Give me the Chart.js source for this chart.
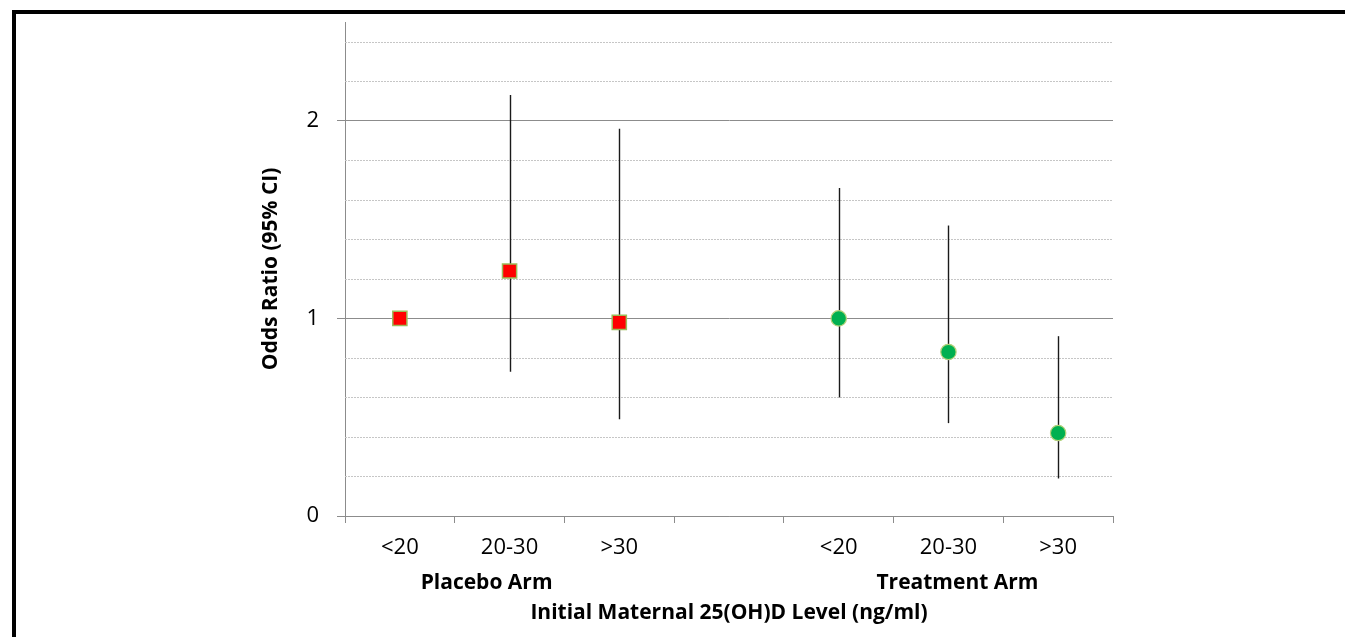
<!DOCTYPE html>
<html>
<head>
<meta charset="utf-8">
<script src="https://cdn.jsdelivr.net/npm/chart.js@4"></script>
<style>
  html, body { margin: 0; padding: 0; background: #fff; overflow: hidden; }
  #wrap { position: relative; width: 1345px; height: 637px; }
  #frame { position: absolute; left: 12px; top: 10px; width: 1400px; height: 700px;
           border-top: 4px solid #000; border-left: 4px solid #000; pointer-events: none; }
  canvas { position: absolute; left: 0; top: 0; }
</style>
</head>
<body>
<div id="wrap">
  <canvas id="mycanvas" width="1345" height="637"></canvas>
  <div id="frame"></div>
</div>
<script>
// categories on the x axis (4th slot is the gap between the two arms)
var categories = ['<20', '20-30', '>30', '', '<20', '20-30', '>30'];

// odds ratios and 95% CI, placebo arm
var placeboOR   = [1.00, 1.24, 0.98, null, null, null, null];
var placeboLow  = [null, 0.73, 0.49, null, null, null, null];
var placeboHigh = [null, 2.13, 1.96, null, null, null, null];

// odds ratios and 95% CI, treatment arm
var treatOR   = [null, null, null, null, 1.00, 0.83, 0.42];
var treatLow  = [null, null, null, null, 0.60, 0.47, 0.19];
var treatHigh = [null, null, null, null, 1.66, 1.47, 0.91];

var yTicks = [0, 1, 2];
var groupLabels = ['Placebo Arm', 'Treatment Arm'];

var fontName = '"Open Sans", Lato, sans-serif';
var gridGrey = '#8c8c8c';

// dotted minor grid lines + CI whiskers, drawn under the markers
var whiskers = {
  id: 'whiskers',
  beforeDatasetsDraw: function(chart) {
    var ctx = chart.ctx, xs = chart.scales.x, ys = chart.scales.y, area = chart.chartArea;
    ctx.save();
    // minor lines every 0.2
    ctx.strokeStyle = '#c6c6c6';
    ctx.lineWidth = 1;
    ctx.setLineDash([2, 1]);
    for (var k = 1; k <= 12; k++) {
      if (k % 5 === 0) continue;
      var py = Math.round(ys.getPixelForValue(k * 0.2)) + 0.5;
      ctx.beginPath();
      ctx.moveTo(area.left, py);
      ctx.lineTo(area.right, py);
      ctx.stroke();
    }
    ctx.setLineDash([]);
    // error bars
    ctx.strokeStyle = '#1a1a1a';
    ctx.lineWidth = 1.4;
    var sets = [[placeboLow, placeboHigh], [treatLow, treatHigh]];
    sets.forEach(function(s) {
      for (var i = 0; i < categories.length; i++) {
        if (s[0][i] == null) continue;
        var px = Math.round(xs.getPixelForValue(i)) + 0.5;
        ctx.beginPath();
        ctx.moveTo(px, ys.getPixelForValue(s[0][i]));
        ctx.lineTo(px, ys.getPixelForValue(s[1][i]));
        ctx.stroke();
      }
    });
    ctx.restore();
  },
  afterDraw: function(chart) {
    // arm labels under the category ticks
    var ctx = chart.ctx, xs = chart.scales.x;
    ctx.save();
    ctx.font = 'bold 21px ' + fontName;
    ctx.fillStyle = '#000';
    ctx.textAlign = 'center';
    ctx.textBaseline = 'middle';
    ctx.fillText(groupLabels[0], xs.getPixelForValue(1) - 23, 583);
    ctx.fillText(groupLabels[1], xs.getPixelForValue(5) + 9, 583);
    ctx.restore();
  }
};

var x = document.getElementById('mycanvas');

var orChart = new Chart(x, {
  type: 'line',
  data: {
    labels: categories,
    datasets: [
      {
        label: 'Placebo Arm',
        data: placeboOR,
        showLine: false,
        pointStyle: 'rect',
        pointRadius: 10,
        pointBackgroundColor: '#ff0000',
        pointBorderColor: '#9bbb59',
        pointBorderWidth: 1.5
      },
      {
        label: 'Treatment Arm',
        data: treatOR,
        showLine: false,
        pointStyle: 'circle',
        pointRadius: 7.7,
        pointBackgroundColor: '#00b050',
        pointBorderColor: '#b5d27a',
        pointBorderWidth: 1.2
      }
    ]
  },
  options: {
    responsive: false,
    animation: false,
    layout: { padding: { left: 245, right: 232, top: 22, bottom: 0 } },
    plugins: { legend: { display: false }, tooltip: { enabled: false } },
    scales: {
      x: {
        offset: true,
        afterFit: function(scale) { scale.height = 121; },
        grid: { offset: true, drawOnChartArea: false, color: gridGrey, tickLength: 7 },
        border: { color: gridGrey },
        ticks: { font: { family: fontName, size: 22 }, color: '#000', padding: 12, maxRotation: 0, autoSkip: false },
        title: {
          display: true,
          text: 'Initial Maternal 25(OH)D Level (ng/ml)',
          font: { family: fontName, size: 21, weight: 'bold' },
          color: '#000',
          padding: { top: 0, bottom: 11 }
        }
      },
      y: {
        min: 0,
        max: 2.5,
        afterFit: function(scale) {
          scale.width = 100;
          scale.paddingTop = 0;
          scale.paddingBottom = 0;
        },
        afterBuildTicks: function(scale) {
          scale.ticks = yTicks.map(function(v) { return { value: v }; });
        },
        grid: { color: gridGrey, tickLength: 8 },
        border: { color: gridGrey },
        ticks: { font: { family: fontName, size: 22 }, color: '#000', padding: 18 },
        title: {
          display: true,
          text: 'Odds Ratio (95% CI)',
          font: { family: fontName, size: 21, weight: 'bold' },
          color: '#000',
          padding: { top: 13, bottom: 0 }
        }
      }
    }
  },
  plugins: [whiskers]
});
</script>
</body>
</html>
